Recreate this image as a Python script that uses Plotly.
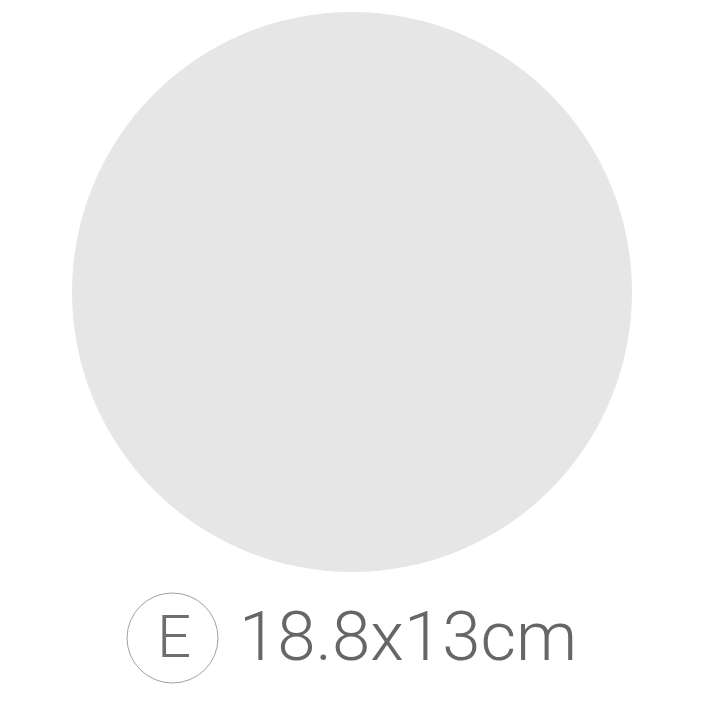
import plotly.graph_objects as go

# size tag and its dimensions
size_code = "E"
width_cm = 18.8
height_cm = 13

dim_text = f"{width_cm}x{height_cm}cm"

# the page body has an 8px margin, so the axes start at 8px
OFF = 8

fig = go.Figure()

# big grey disc (the plate)
fig.add_shape(type="circle", x0=72, y0=12, x1=632, y1=572,
              fillcolor="#e6e6e6", line=dict(width=0), layer="below")

# small outlined circle round the size letter
fig.add_shape(type="circle", x0=127, y0=593, x1=218, y1=683,
              fillcolor="rgba(0,0,0,0)", line=dict(color="#a0a0a0", width=1))

fig.add_annotation(x=174, y=636, text=size_code, showarrow=False,
                   font=dict(family="Roboto", size=60, color="#6e6e6e", weight=300),
                   xanchor="center", yanchor="middle")

fig.add_annotation(x=237, y=636, text=dim_text, showarrow=False,
                   font=dict(family="Roboto", size=69, color="#666666", weight=300),
                   xanchor="left", yanchor="middle")

fig.update_layout(
    width=705, height=705,
    margin=dict(l=0, r=0, t=0, b=0),
    paper_bgcolor="white", plot_bgcolor="white",
    xaxis=dict(range=[OFF, 705 + OFF], visible=False, fixedrange=True),
    yaxis=dict(range=[705 + OFF, OFF], visible=False, fixedrange=True),
    showlegend=False,
)

fig.write_html("out.html")
